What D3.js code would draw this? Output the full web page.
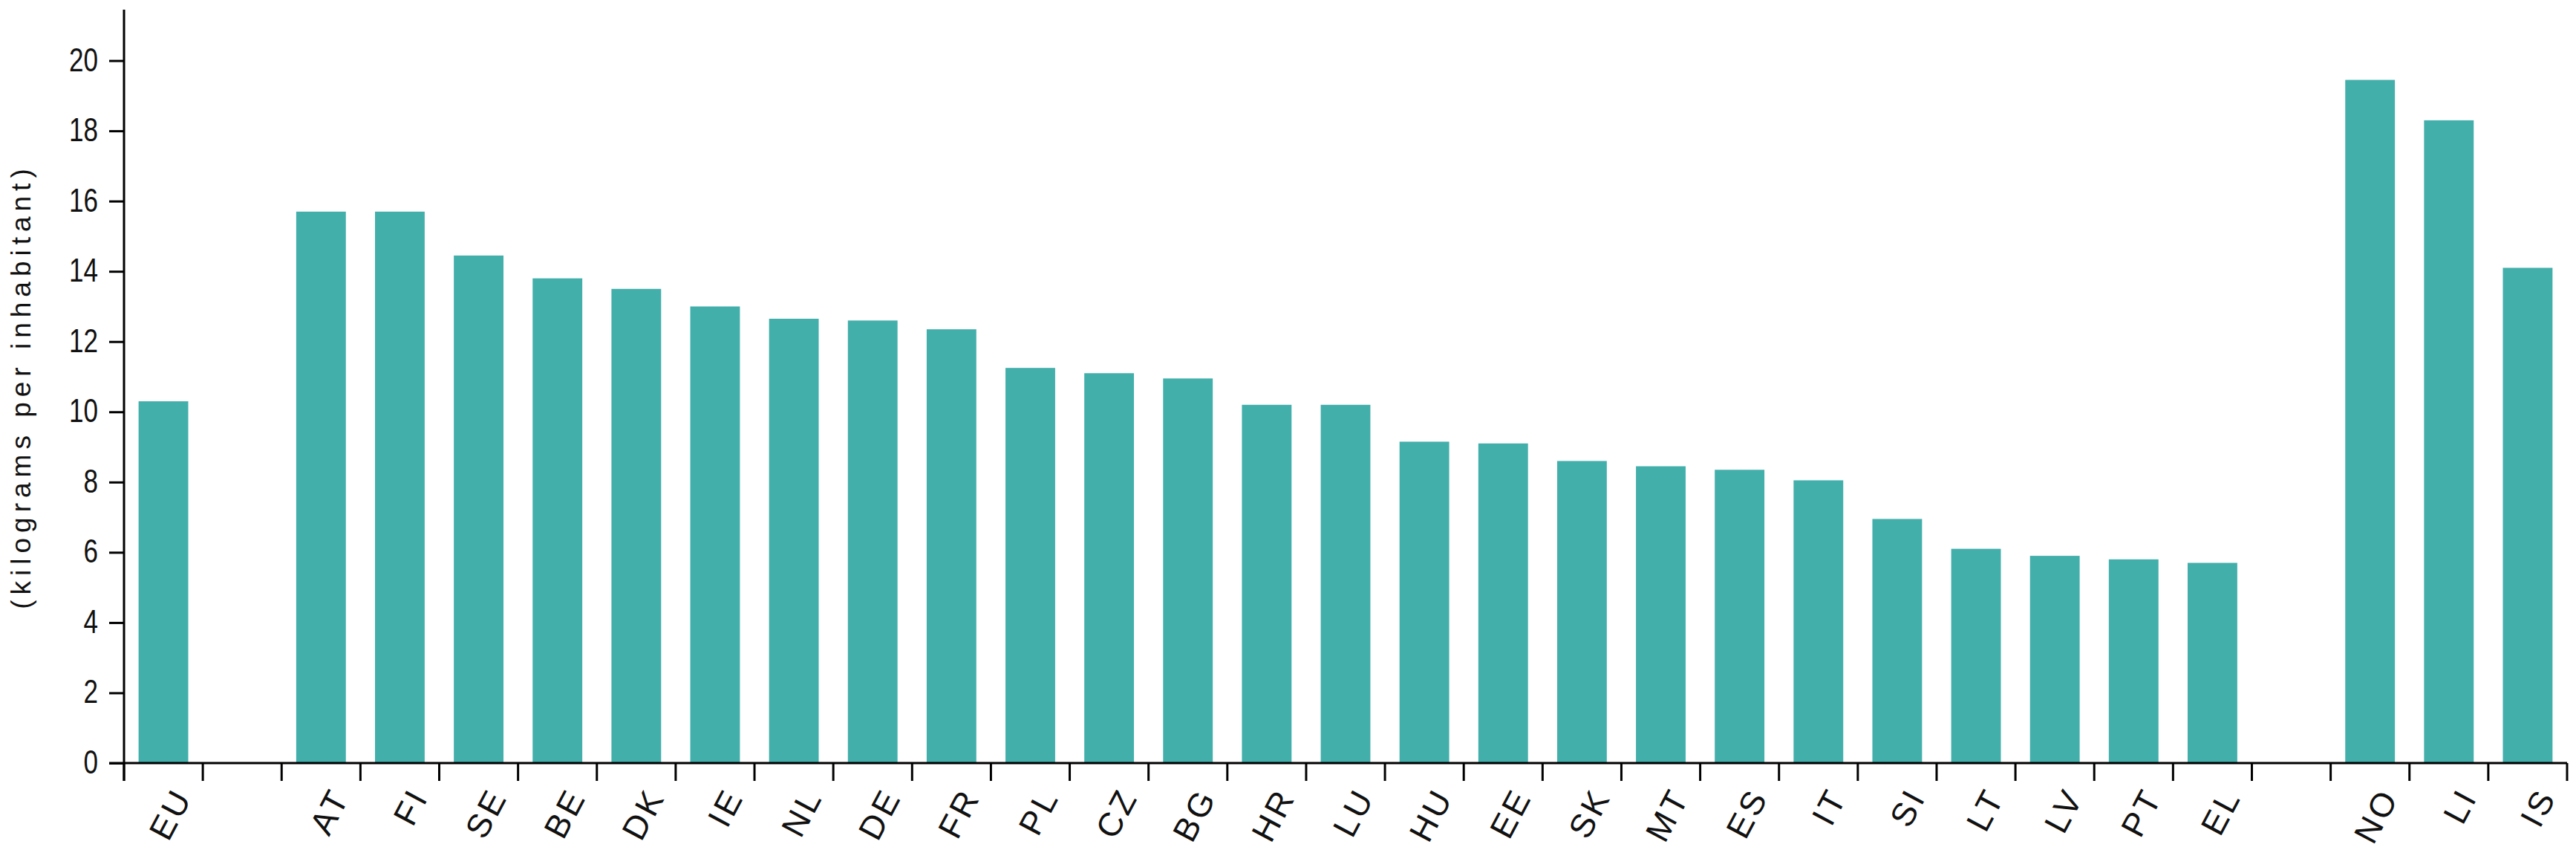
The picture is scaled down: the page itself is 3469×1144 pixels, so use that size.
<!DOCTYPE html>
<html>
<head>
<meta charset="utf-8">
<script src="https://cdn.jsdelivr.net/npm/d3@7"></script>
<style>
  body { margin: 0; background: #fff; }
  svg { display: block; }
  .tick text { fill: #111; }
</style>
</head>
<body>
<svg width="3469" height="1144"></svg>
<script>
// EU aggregate, member states (sorted), then EFTA countries
var euCodes = ["EU"];
var euValues = [10.3];

var memberCodes = ["AT", "FI", "SE", "BE", "DK", "IE", "NL", "DE", "FR", "PL", "CZ", "BG", "HR",
  "LU", "HU", "EE", "SK", "MT", "ES", "IT", "SI", "LT", "LV", "PT", "EL"];
var memberValues = [15.7, 15.7, 14.45, 13.8, 13.5, 13.0, 12.65, 12.6, 12.35, 11.25, 11.1, 10.95, 10.2,
  10.2, 9.15, 9.1, 8.6, 8.45, 8.35, 8.05, 6.95, 6.1, 5.9, 5.8, 5.7];

var eftaCodes = ["NO", "LI", "IS"];
var eftaValues = [19.45, 18.3, 14.1];

var yTicks = [0, 2, 4, 6, 8, 10, 12, 14, 16, 18, 20];
var yTitle = "(kilograms per inhabitant)";

// one empty slot between the groups
var slots = [].concat(euCodes, ["gap1"], memberCodes, ["gap2"], eftaCodes);
var data = [];
euCodes.forEach((c, i) => data.push({code: c, value: euValues[i]}));
memberCodes.forEach((c, i) => data.push({code: c, value: memberValues[i]}));
eftaCodes.forEach((c, i) => data.push({code: c, value: eftaValues[i]}));

const svg = d3.select("svg"),
  plotLeft = 167, plotRight = 3457, plotTop = 13, plotBottom = 1027;

const x = d3.scaleBand().domain(slots).range([plotLeft, plotRight]).paddingInner(0.37).paddingOuter(0.185);
const y = d3.scaleLinear().domain([0, 21.45]).range([plotBottom, plotTop]);

svg.append("rect").attr("width", 3469).attr("height", 1144).attr("fill", "#fff");

// bars
svg.selectAll(".bar")
  .data(data)
  .enter().append("rect")
  .attr("class", "bar")
  .attr("x", d => x(d.code))
  .attr("y", d => y(d.value))
  .attr("width", x.bandwidth())
  .attr("height", d => plotBottom - y(d.value))
  .attr("fill", "#42afab");

// y axis
const yAxis = svg.append("g")
  .attr("transform", `translate(${plotLeft},0)`)
  .call(d3.axisLeft(y).tickValues(yTicks).tickSize(20).tickPadding(14).tickSizeOuter(0));
yAxis.select(".domain").remove();
yAxis.selectAll(".tick line").attr("stroke", "#000").attr("stroke-width", 3);
// narrow digits: squeeze the labels horizontally
yAxis.selectAll(".tick text")
  .attr("font-family", "'Liberation Sans', Arial, sans-serif")
  .attr("font-size", 45)
  .attr("transform", "scale(0.78,1)")
  .attr("x", -35 / 0.78)
  .attr("dy", "0.3em");
svg.append("line")
  .attr("x1", plotLeft).attr("x2", plotLeft)
  .attr("y1", y(21.45)).attr("y2", plotBottom + 24)
  .attr("stroke", "#000").attr("stroke-width", 3);

// x axis: baseline plus ticks on the slot edges
svg.append("line")
  .attr("x1", plotLeft - 20).attr("x2", plotRight)
  .attr("y1", plotBottom).attr("y2", plotBottom)
  .attr("stroke", "#000").attr("stroke-width", 3);

var step = x.step();
var edges = slots.map(s => x(s) - step * 0.185).concat([plotRight]);
svg.selectAll(".xtick")
  .data(edges)
  .enter().append("line")
  .attr("class", "xtick")
  .attr("x1", d => d).attr("x2", d => d)
  .attr("y1", plotBottom).attr("y2", plotBottom + 24)
  .attr("stroke", "#000").attr("stroke-width", 3);

svg.selectAll(".xlabel")
  .data(data)
  .enter().append("text")
  .attr("class", "xlabel")
  .attr("transform", d => `translate(${x(d.code) + x.bandwidth() / 2 + 12},${plotBottom + 30}) rotate(-62)`)
  .attr("text-anchor", "end")
  .attr("dy", "0.7em")
  .attr("font-family", "'Liberation Sans', Arial, sans-serif")
  .attr("font-size", 45)
  .attr("letter-spacing", 4)
  .attr("fill", "#111")
  .text(d => d.code);

// y title
svg.append("text")
  .attr("transform", "translate(41,520) rotate(-90)")
  .attr("text-anchor", "middle")
  .attr("font-family", "'Liberation Sans', Arial, sans-serif")
  .attr("font-size", 37)
  .attr("letter-spacing", 7)
  .attr("fill", "#111")
  .text(yTitle);
</script>
</body>
</html>
